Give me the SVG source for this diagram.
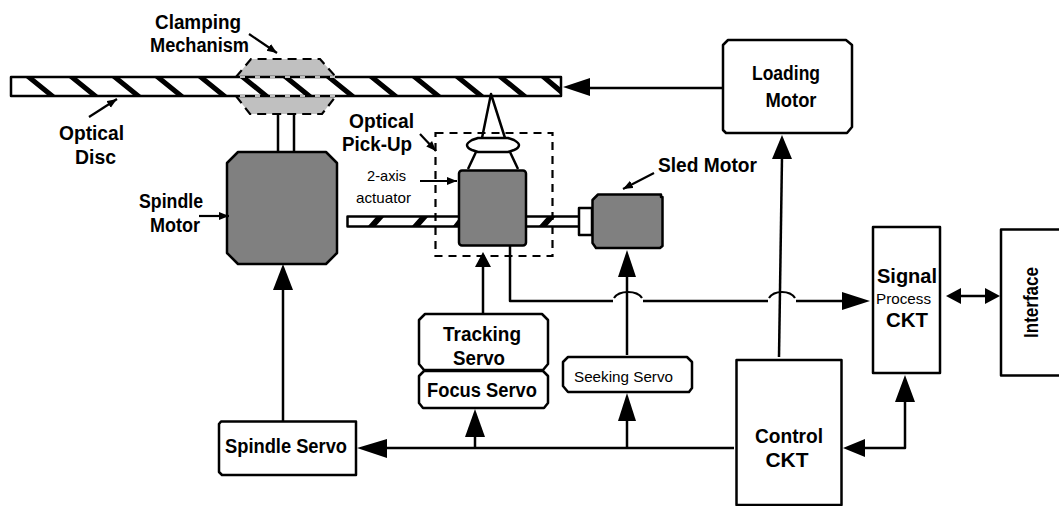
<svg xmlns="http://www.w3.org/2000/svg" width="1059" height="506" viewBox="0 0 1059 506">
<style>
.b{fill:#fff;stroke:#000;stroke-width:2.500;stroke-linejoin:round}
.g{fill:#808080;stroke:#000;stroke-width:2.500;stroke-linejoin:round}
.l{fill:none;stroke:#000;stroke-width:2.500;stroke-linejoin:round}
.t{fill:none;stroke:#000;stroke-width:2.200}
.d{fill:none;stroke:#000;stroke-width:2.200;stroke-dasharray:8 6}
.c{fill:#c0c0c0;stroke:#000;stroke-width:2.200;stroke-dasharray:9 6}
.h{fill:#000;stroke:none}
text{font-family:"Liberation Sans",Arial,sans-serif;fill:#000}
.m{font-size:20px;font-weight:bold}
.s{font-size:15px}
</style>
<defs>
<marker id="p" markerWidth="12" markerHeight="10" refX="10" refY="4" orient="auto" markerUnits="userSpaceOnUse"><path d="M0 0L10 4L0 8Z"/></marker>
</defs>
<g id="clamp">
<path class="c" d="M236 77L251 59H320L336 77"/>
<path class="c" d="M236 96L250 114H322L336 96"/>
</g>
<g id="disc">
<rect class="b" x="11" y="77" width="550" height="19"/>
<path class="h" d="M26 78h8l21 17h-8zM69 78h8l21 17h-8zM112 78h8l21 17h-8zM155 78h8l21 17h-8zM198 78h8l21 17h-8zM240 78h8l21 17h-8zM283 78h8l21 17h-8zM326 78h8l21 17h-8zM369 78h8l21 17h-8zM412 78h8l21 17h-8zM455 78h8l21 17h-8zM498 78h8l21 17h-8zM541 78h8l12 10v7z"/>
<path d="M240 77H335M240 96H335" fill="none" stroke="#fff" stroke-width="1.5" stroke-dasharray="5 10"/>
</g>
<g id="spindle-motor">
<path class="l" d="M278 114V152M294 114V152"/>
<path class="g" d="M238 152H326L337 163V253L326 264H238L227 253V163Z"/>
</g>
<g id="rail">
<rect class="b" x="347.500" y="216.500" width="233" height="10"/>
<path class="h" d="M368 226l8-9h8l-8 9zM412 226l8-9h8l-8 9zM453 226l7-9h5v9zM539 226l8-9h8l-8 9z"/>
</g>
<g id="pickup">
<path class="l" d="M482 138L491 94L505 138"/>
<path class="l" d="M468 169L476 152M518 169L510 152"/>
<path class="b" d="M478 138H508L514 140Q519 143 519 145Q519 148 514 150L508 152H478L472 150Q467 148 467 145Q467 143 472 140Z"/>
<rect class="g" x="459" y="170.500" width="67" height="75" rx="3"/>
<rect class="d" x="435.500" y="133" width="117" height="123"/>
</g>
<g id="sled-motor">
<rect class="b" x="579" y="208" width="13" height="27"/>
<path class="g" d="M598 194.500H661V197H662.500V246L660 248H596L592.500 243V200Z"/>
</g>
<g id="tracking-servo">
<path class="b" d="M425 314H542L548 320V364L543 370H424L419 364V320Z"/>
<text class="m" x="482" y="341" text-anchor="middle" textLength="78" lengthAdjust="spacingAndGlyphs">Tracking</text>
<text class="m" x="479" y="365" text-anchor="middle" textLength="52" lengthAdjust="spacingAndGlyphs">Servo</text>
</g>
<g id="focus-servo">
<path class="b" d="M424 371H543L548 376V403L544 408H423L419 403V376Z"/>
<text class="m" x="482" y="397" text-anchor="middle" textLength="110" lengthAdjust="spacingAndGlyphs">Focus Servo</text>
</g>
<g id="seeking-servo">
<path class="b" d="M568 357H687L692 362V388L689 392H568L563 386V362Z"/>
<text class="s" x="574" y="382" textLength="99" lengthAdjust="spacingAndGlyphs">Seeking Servo</text>
</g>
<g id="spindle-servo">
<path class="b" d="M221 421.500H356V475H222L219 472V424Z"/>
<text class="m" x="225" y="453" textLength="122" lengthAdjust="spacingAndGlyphs">Spindle Servo</text>
</g>
<g id="loading-motor">
<path class="b" d="M728 40H846L852 45V127L847 133H726L723 130V45Z"/>
<text class="m" x="786" y="80" text-anchor="middle" textLength="68" lengthAdjust="spacingAndGlyphs">Loading</text>
<text class="m" x="791" y="107" text-anchor="middle" textLength="51" lengthAdjust="spacingAndGlyphs">Motor</text>
</g>
<g id="signal-ckt">
<rect class="b" x="873" y="227" width="67" height="146"/>
<text class="m" x="907" y="283" text-anchor="middle" textLength="60" lengthAdjust="spacingAndGlyphs">Signal</text>
<text class="s" x="903.500" y="304" text-anchor="middle" textLength="55" lengthAdjust="spacingAndGlyphs">Process</text>
<text class="m" x="907" y="327" text-anchor="middle" textLength="42" lengthAdjust="spacingAndGlyphs">CKT</text>
</g>
<g id="interface">
<rect class="b" x="1001" y="229.500" width="62" height="146"/>
<text class="m" transform="translate(1038 338) rotate(-90)" textLength="71" lengthAdjust="spacingAndGlyphs">Interface</text>
</g>
<g id="control-ckt">
<rect class="b" x="736.500" y="360" width="105" height="145"/>
<text class="m" x="789" y="443" text-anchor="middle" textLength="68" lengthAdjust="spacingAndGlyphs">Control</text>
<text class="m" x="787" y="467" text-anchor="middle" textLength="43" lengthAdjust="spacingAndGlyphs">CKT</text>
</g>
<g id="connectors">
<path class="l" d="M283 421V290"/><path class="h" d="M283 264L293 290H273Z"/>
<path class="l" d="M483 314V266"/><path class="h" d="M483 252L491 267H475Z"/>
<path class="l" d="M627 355V277"/><path class="h" d="M627 250L636 277H618Z"/>
<path class="l" d="M510 245V301H613M643 301H768M796 301H845"/>
<path class="t" d="M614 298Q618 292 628 292Q638 292 642 298M769 298Q773 292 782 292Q791 292 795 298"/>
<path class="h" d="M870 301L842 292V310Z"/>
<path class="l" d="M723 88H588"/><path class="h" d="M563 87L590 78V96Z"/>
<path class="l" d="M779 357L782 157"/><path class="h" d="M782 135L792 159H772Z"/>
<path class="l" d="M955 296H990"/><path class="h" d="M946 296L961 288V304ZM1000 296L985 288V304Z"/>
<path class="l" d="M863 448H905V400"/><path class="h" d="M843 448L865 439V457ZM905 375L915 402H895Z"/>
<path class="l" d="M734 448H385"/><path class="h" d="M357 448L387 439V458Z"/>
<path class="l" d="M475 448V436"/><path class="h" d="M475 409L485 437H465Z"/>
<path class="l" d="M627 448V420"/><path class="h" d="M627 393L636 421H618Z"/>
<path class="t" marker-end="url(#p)" d="M249 34L277 53"/>
<path class="t" marker-end="url(#p)" d="M89 117L117 99"/>
<path class="t" marker-end="url(#p)" d="M199 216H229"/>
<path class="t" marker-end="url(#p)" d="M420 134L436 151"/>
<path class="t" marker-end="url(#p)" d="M420 181H457"/>
<path class="t" marker-end="url(#p)" d="M654 173L623 189"/>
</g>
<g id="labels">
<text class="m" x="155" y="29" textLength="86" lengthAdjust="spacingAndGlyphs">Clamping</text>
<text class="m" x="150" y="52" textLength="99" lengthAdjust="spacingAndGlyphs">Mechanism</text>
<text class="m" x="59" y="140" textLength="65" lengthAdjust="spacingAndGlyphs">Optical</text>
<text class="m" x="75" y="164" textLength="41" lengthAdjust="spacingAndGlyphs">Disc</text>
<text class="m" x="139" y="208" textLength="64" lengthAdjust="spacingAndGlyphs">Spindle</text>
<text class="m" x="150" y="232" textLength="50" lengthAdjust="spacingAndGlyphs">Motor</text>
<text class="m" x="349" y="128" textLength="65" lengthAdjust="spacingAndGlyphs">Optical</text>
<text class="m" x="342" y="151" textLength="70" lengthAdjust="spacingAndGlyphs">Pick-Up</text>
<text class="s" x="367" y="181" textLength="39" lengthAdjust="spacingAndGlyphs">2-axis</text>
<text class="s" x="356" y="203" textLength="55" lengthAdjust="spacingAndGlyphs">actuator</text>
<text class="m" x="658" y="172" textLength="99" lengthAdjust="spacingAndGlyphs">Sled Motor</text>
</g>
</svg>
